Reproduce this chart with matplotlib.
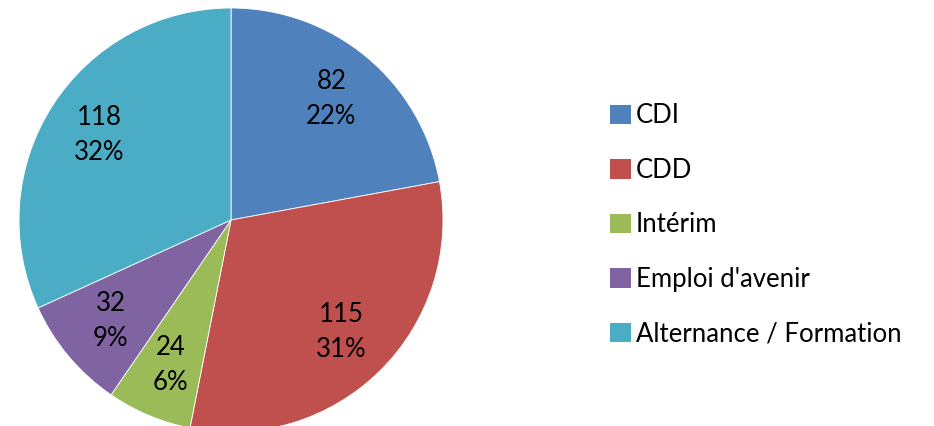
import matplotlib.pyplot as plt
from matplotlib.patches import Patch

plt.rcParams['font.family'] = ['Lato', 'DejaVu Sans']

# Data
categories = ["CDI", "CDD", "Intérim", "Emploi d'avenir", "Alternance / Formation"]
values = [82, 115, 24, 32, 118]
colors = ['#4F81BD', '#C0504D', '#9BBB59', '#8064A2', '#4BACC6']

total = sum(values)


def make_label(pct):
    val = int(round(pct * total / 100.0))
    return "{}\n{:.0f}%".format(val, pct)


W, H = 934, 426
fig = plt.figure(figsize=(W / 100, H / 100), dpi=100)
fig.patch.set_facecolor('white')

# Pie axes (center ~ (231, 220) px, radius ~212 px)
cx, cy, r = 231, 220, 212
ax = fig.add_axes([(cx - r) / W, (H - cy - r) / H, 2 * r / W, 2 * r / H])
ax.pie(values, colors=colors, startangle=90, counterclock=False,
       autopct=make_label, pctdistance=0.74, radius=1.0,
       wedgeprops=dict(edgecolor='white', linewidth=0.6),
       textprops=dict(fontsize=18.5, color='black', linespacing=1.5))
ax.set_xlim(-1, 1)
ax.set_ylim(-1, 1)
ax.set_aspect('equal')
ax.axis('off')

# Legend
handles = [Patch(facecolor=c, edgecolor='none') for c in colors]
fig.legend(handles, categories, loc='center left',
           bbox_to_anchor=(610 / W, (H - 225) / H), frameon=False,
           fontsize=18.5, handlelength=0.8, handleheight=0.8,
           handletextpad=0.2, labelspacing=1.15, borderpad=0, borderaxespad=0)

fig.savefig("out.png", dpi=100)
